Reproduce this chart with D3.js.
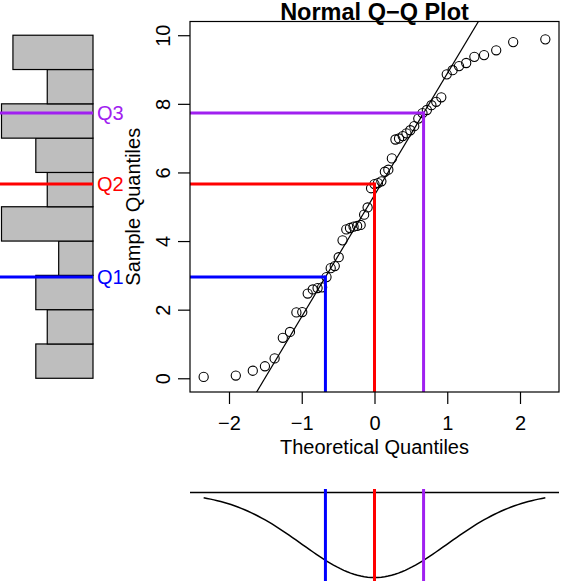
<!DOCTYPE html>
<html>
<head>
<meta charset="utf-8">
<script src="https://cdn.jsdelivr.net/npm/d3@7"></script>
<style>
  html, body { margin: 0; padding: 0; background: #fff; }
  svg { display: block; font-family: "Liberation Sans", Arial, sans-serif; }
</style>
</head>
<body>
<svg id="chart" width="562" height="585"></svg>
<script>
// sorted sample
var sampleValues = [
  0.04, 0.08, 0.22, 0.35, 0.58, 1.18, 1.35, 1.92, 1.93, 2.47,
  2.59, 2.63, 2.65, 2.95, 3.21, 3.27, 3.53, 4.02, 4.34, 4.38,
  4.42, 4.44, 4.47, 4.77, 4.98, 5.54, 5.66, 5.69, 5.74, 6.02,
  6.08, 6.41, 6.96, 6.99, 7.06, 7.14, 7.23, 7.35, 7.57, 7.73,
  7.82, 7.96, 8.06, 8.19, 8.86, 8.98, 9.10, 9.19, 9.37, 9.42,
  9.56, 9.80, 9.88
];
var binEdges = [0, 1, 2, 3, 4, 5, 6, 7, 8, 9, 10];
var yTicks = [0, 2, 4, 6, 8, 10];
var xTicks = [-2, -1, 0, 1, 2];
var quartileProbs = [0.25, 0.5, 0.75];
var quartileLabels = ["Q1", "Q2", "Q3"];
var quartileColors = ["#0000ff", "#ff0000", "#a020f0"];

// inverse normal cdf (Acklam)
function qnorm(p) {
  var a = [-3.969683028665376e+01, 2.209460984245205e+02, -2.759285104469687e+02, 1.383577518672690e+02, -3.066479806614716e+01, 2.506628277459239e+00];
  var b = [-5.447609879822406e+01, 1.615858368580409e+02, -1.556989798598866e+02, 6.680131188771972e+01, -1.328068155288572e+01];
  var c = [-7.784894002430293e-03, -3.223964580411365e-01, -2.400758277161838e+00, -2.549732539343734e+00, 4.374664141464968e+00, 2.938163982698783e+00];
  var d = [7.784695709041462e-03, 3.224671290700398e-01, 2.445134137142996e+00, 3.754408661907416e+00];
  var pl = 0.02425, q, r;
  if (p < pl) {
    q = Math.sqrt(-2 * Math.log(p));
    return (((((c[0]*q+c[1])*q+c[2])*q+c[3])*q+c[4])*q+c[5]) / ((((d[0]*q+d[1])*q+d[2])*q+d[3])*q+1);
  }
  if (p <= 1 - pl) {
    q = p - 0.5; r = q * q;
    return (((((a[0]*r+a[1])*r+a[2])*r+a[3])*r+a[4])*r+a[5])*q / (((((b[0]*r+b[1])*r+b[2])*r+b[3])*r+b[4])*r+1);
  }
  q = Math.sqrt(-2 * Math.log(1 - p));
  return -(((((c[0]*q+c[1])*q+c[2])*q+c[3])*q+c[4])*q+c[5]) / ((((d[0]*q+d[1])*q+d[2])*q+d[3])*q+1);
}
function dnorm(z) { return Math.exp(-z * z / 2) / Math.sqrt(2 * Math.PI); }

var n = sampleValues.length;
var points = sampleValues.map(function (v, i) {
  return { x: qnorm((i + 1 - 0.5) / n), y: v };
});
var quartiles = quartileProbs.map(function (p, i) {
  return { x: qnorm(p), y: d3.quantile(sampleValues, p), label: quartileLabels[i], color: quartileColors[i] };
});
var slope = (quartiles[2].y - quartiles[0].y) / (quartiles[2].x - quartiles[0].x);
var intercept = quartiles[0].y - slope * quartiles[0].x;

var svg = d3.select("#chart");
var box = { left: 190, right: 559, top: 21.5, bottom: 392 };

var xExt = d3.extent(points, function (d) { return d.x; });
var pad = (xExt[1] - xExt[0]) * 0.04;
var x = d3.scaleLinear().domain([xExt[0] - pad, xExt[1] + pad]).range([box.left, box.right]);
var ylim = [binEdges[0], binEdges[binEdges.length - 1]];
var ypad = (ylim[1] - ylim[0]) * 0.04;
var y = d3.scaleLinear().domain([ylim[0] - ypad, ylim[1] + ypad]).range([box.bottom, box.top]);

svg.append("defs").append("clipPath").attr("id", "mainClip")
  .append("rect")
  .attr("x", box.left).attr("y", box.top)
  .attr("width", box.right - box.left).attr("height", box.bottom - box.top);

// ---- histogram on the left ----
var bins = d3.bin().domain(ylim).thresholds(binEdges.slice(1, -1))(sampleValues);
var maxCount = d3.max(bins, function (b) { return b.length; });
var hx = d3.scaleLinear().domain([0, maxCount]).range([93, 1.5]);

svg.append("g").selectAll("rect")
  .data(bins)
  .enter().append("rect")
  .attr("x", function (b) { return hx(b.length); })
  .attr("y", function (b) { return y(b.x1); })
  .attr("width", function (b) { return hx(0) - hx(b.length); })
  .attr("height", function (b) { return y(b.x0) - y(b.x1); })
  .attr("fill", "#bebebe")
  .attr("stroke", "#000")
  .attr("stroke-width", 1.2);

var hq = svg.append("g");
hq.selectAll("line")
  .data(quartiles)
  .enter().append("line")
  .attr("x1", 0).attr("x2", hx(0))
  .attr("y1", function (d) { return y(d.y); })
  .attr("y2", function (d) { return y(d.y); })
  .attr("stroke", function (d) { return d.color; })
  .attr("stroke-width", 3);
hq.selectAll("text")
  .data(quartiles)
  .enter().append("text")
  .attr("x", 97)
  .attr("y", function (d) { return y(d.y) + 7; })
  .attr("fill", function (d) { return d.color; })
  .style("font-size", "20px")
  .text(function (d) { return d.label; });

// ---- main Q-Q plot ----
var plot = svg.append("g").attr("clip-path", "url(#mainClip)");

plot.selectAll("circle")
  .data(points)
  .enter().append("circle")
  .attr("cx", function (d) { return x(d.x); })
  .attr("cy", function (d) { return y(d.y); })
  .attr("r", 4.6)
  .attr("fill", "none")
  .attr("stroke", "#000")
  .attr("stroke-width", 1.1);

var xd = x.domain();
plot.append("line")
  .attr("x1", x(xd[0])).attr("y1", y(intercept + slope * xd[0]))
  .attr("x2", x(xd[1])).attr("y2", y(intercept + slope * xd[1]))
  .attr("stroke", "#000")
  .attr("stroke-width", 1.2);

var ql = plot.selectAll("g.q")
  .data(quartiles)
  .enter().append("g").attr("class", "q");
ql.append("line")
  .attr("x1", box.left).attr("x2", function (d) { return x(d.x); })
  .attr("y1", function (d) { return y(d.y); })
  .attr("y2", function (d) { return y(d.y); })
  .attr("stroke", function (d) { return d.color; })
  .attr("stroke-width", 3);
ql.append("line")
  .attr("x1", function (d) { return x(d.x); })
  .attr("x2", function (d) { return x(d.x); })
  .attr("y1", function (d) { return y(d.y) - 1.5; })
  .attr("y2", box.bottom)
  .attr("stroke", function (d) { return d.color; })
  .attr("stroke-width", 3);

svg.append("rect")
  .attr("x", box.left).attr("y", box.top)
  .attr("width", box.right - box.left).attr("height", box.bottom - box.top)
  .attr("fill", "none").attr("stroke", "#000").attr("stroke-width", 1.2);

// axes
var xAxis = svg.append("g")
  .attr("transform", "translate(0," + box.bottom + ")")
  .call(d3.axisBottom(x).tickValues(xTicks).tickFormat(d3.format("d")).tickSize(12).tickSizeOuter(0));
xAxis.select(".domain").remove();
xAxis.selectAll("line").attr("stroke-width", 1.2);
xAxis.selectAll("text")
  .attr("y", 38).attr("dy", null)
  .style("font-size", "20px")
  .attr("fill", "#000");

var yAxis = svg.append("g")
  .attr("transform", "translate(" + box.left + ",0)")
  .call(d3.axisLeft(y).tickValues(yTicks).tickFormat(d3.format("d")).tickSize(12).tickSizeOuter(0));
yAxis.select(".domain").remove();
yAxis.selectAll("line").attr("stroke-width", 1.2);
yAxis.selectAll("text")
  .attr("x", null).attr("dy", null)
  .attr("transform", "translate(-20,0) rotate(-90)")
  .attr("text-anchor", "middle")
  .style("font-size", "20px")
  .attr("fill", "#000");

svg.append("text")
  .attr("x", (box.left + box.right) / 2).attr("y", 20)
  .attr("text-anchor", "middle")
  .style("font-size", "23.5px").style("font-weight", "bold")
  .text("Normal Q\u2212Q Plot");

svg.append("text")
  .attr("x", (box.left + box.right) / 2).attr("y", 454)
  .attr("text-anchor", "middle")
  .style("font-size", "20px")
  .text("Theoretical Quantiles");

svg.append("text")
  .attr("transform", "translate(140," + ((box.top + box.bottom) / 2) + ") rotate(-90)")
  .attr("text-anchor", "middle")
  .style("font-size", "20px")
  .text("Sample Quantiles");

// ---- density strip at the bottom ----
var dTop = 489, dBottom = 581;
var dMax = dnorm(0);
var dy = d3.scaleLinear().domain([-dMax * 0.04, dMax * 1.04]).range([dTop, dBottom]);

var dens = svg.append("g");
dens.append("line")
  .attr("x1", box.left).attr("x2", box.right)
  .attr("y1", dy(0)).attr("y2", dy(0))
  .attr("stroke", "#000").attr("stroke-width", 1.5);

var zGrid = d3.range(0, 101).map(function (i) { return xExt[0] + (xExt[1] - xExt[0]) * i / 100; });
dens.append("path")
  .datum(zGrid)
  .attr("d", d3.line()
    .x(function (z) { return x(z); })
    .y(function (z) { return dy(dnorm(z)); }))
  .attr("fill", "none")
  .attr("stroke", "#000")
  .attr("stroke-width", 1.5);

dens.selectAll("line.q")
  .data(quartiles)
  .enter().append("line").attr("class", "q")
  .attr("x1", function (d) { return x(d.x); })
  .attr("x2", function (d) { return x(d.x); })
  .attr("y1", dTop).attr("y2", dBottom)
  .attr("stroke", function (d) { return d.color; })
  .attr("stroke-width", 3);
</script>
</body>
</html>
